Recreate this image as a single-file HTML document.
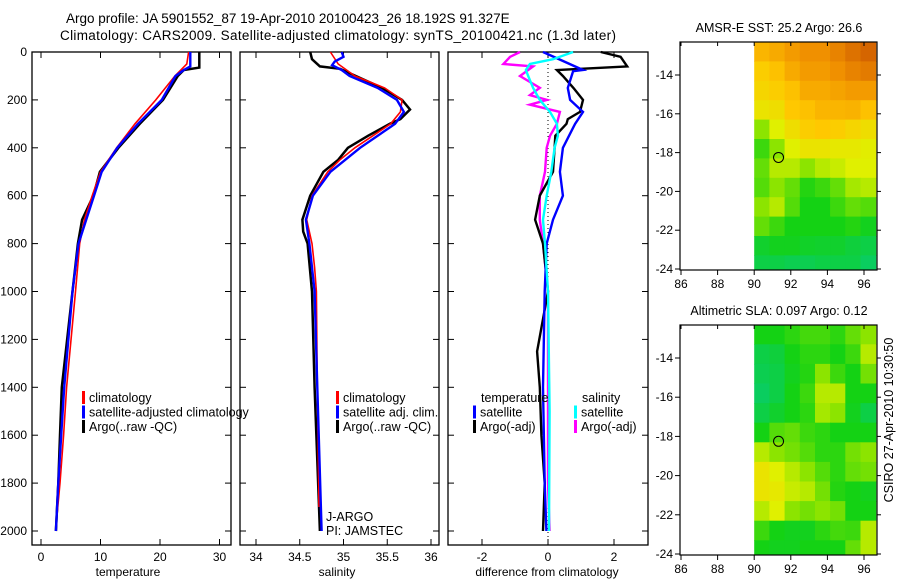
<!DOCTYPE html>
<html><head><meta charset="utf-8"><style>
body{margin:0;background:#fff;}
svg{display:block;font-family:"Liberation Sans",sans-serif;}
</style></head><body>
<svg id="fig" width="900" height="580" xmlns="http://www.w3.org/2000/svg">
<rect width="900" height="580" fill="#fff"/>
<text x="66" y="23" font-size="13.5">Argo profile: JA 5901552_87 19-Apr-2010 20100423_26 18.192S 91.327E</text>
<text x="60" y="40" font-size="13.5" textLength="556">Climatology: CARS2009. Satellite-adjusted climatology: synTS_20100421.nc (1.3d later)</text>
<text transform="translate(893,420) rotate(-90)" text-anchor="middle" font-size="12.5">CSIRO 27-Apr-2010 10:30:50</text>
</svg>
<script>
// ---------- data ----------
const yTicks=[0,200,400,600,800,1000,1200,1400,1600,1800,2000];
const tempTicks=[0,10,20,30];
const salTicks=[34,34.5,35,35.5,36];
const diffTicks=[-2,0,2];
// temperature
const tClimDepth=[0,50,100,200,300,400,500,600,700,800,1000,1400,1600,1800,1930];
const tClim=[24.8,24.5,22.5,19.3,15.8,12.7,10,8.6,7.3,6.5,5.8,4.3,3.8,3.2,2.7];
const tSatDepth=[0,60,75,100,200,300,400,500,600,700,800,1000,1400,1600,1800,2000];
const tSat=[25.1,25.1,24,22.6,20.3,16.3,12.8,10.2,8.9,7.6,6.3,5.3,3.9,3.4,2.9,2.5];
const tArgoDepth=[0,65,75,100,200,300,400,500,600,700,800,1000,1400,1600,1800,2000];
const tArgo=[26.6,26.6,24,23,20.5,16.6,13,9.9,8.8,6.9,6.2,5.3,3.5,3.2,2.9,2.5];
// salinity
const sClimDepth=[0,50,100,150,200,250,300,400,450,500,600,700,800,900,1000,1400,1900];
const sClim=[34.85,34.94,35.13,35.47,35.67,35.65,35.54,35.13,34.96,34.82,34.64,34.58,34.64,34.67,34.69,34.70,34.72];
const sSatDepth=[0,20,40,55,75,100,150,200,250,300,400,500,600,700,800,1000,1400,2000];
const sSat=[34.98,35.0,34.9,34.87,34.98,35.07,35.39,35.61,35.69,35.59,35.19,34.85,34.65,34.57,34.61,34.67,34.70,34.75];
const sArgoDepth=[0,30,60,70,100,150,200,240,280,300,350,400,450,500,600,700,750,800,1000,1400,2000];
const sArgo=[34.62,34.64,34.73,34.96,35.14,35.44,35.67,35.76,35.65,35.53,35.28,35.05,34.94,34.77,34.62,34.53,34.54,34.59,34.64,34.67,34.73];
// differences
const dTSatDepth=[0,75,80,150,200,250,300,400,500,600,700,800,1000,1400,1800,2000];
const dTSat=[-0.15,1.06,0.76,0.6,0.67,1.06,0.82,0.45,0.36,0.45,0.15,-0.04,-0.1,-0.15,-0.1,-0.05];
const dTArgoDepth=[0,20,60,75,100,150,200,250,280,300,350,400,500,600,700,800,1000,1250,1400,1600,1800,2000];
const dTArgo=[1.6,2.2,2.4,0.27,0.45,0.77,1.06,0.97,0.6,0.56,0.22,0.2,0.15,-0.25,-0.39,-0.15,0,-0.33,-0.25,-0.2,-0.1,-0.15];
const dSArgoDepth=[0,20,50,60,100,150,180,200,220,250,300,350,400,500,600,700,800,1000,1400,1800,2000];
const dSArgo=[-0.85,-1.15,-1.35,-0.45,-0.85,-0.25,-0.55,-0.03,-0.55,0.36,0.27,0.06,-0.04,-0.09,-0.25,-0.25,-0.15,0,0,0,0.05];
const dSSatDepth=[0,30,50,75,100,150,200,250,300,350,400,500,600,700,800,1000,1500,2000];
const dSSat=[0.76,0.15,-0.55,-0.67,-0.6,-0.45,-0.25,0.06,0.27,0.3,0.2,0.1,-0.04,-0.15,-0.09,0,0.05,0.03];
// maps
const lonTicks=[86,88,90,92,94,96];
const latTicks=[-14,-16,-18,-20,-22,-24];
const mapLonEdges=[90,90.83,91.66,92.49,93.32,94.15,94.98,95.81,96.64];
const mapLatEdges=[-12.3,-13.3,-14.3,-15.3,-16.3,-17.3,-18.3,-19.3,-20.3,-21.3,-22.3,-23.3,-24];
const sstGrid=[
[0.75,0.78,0.82,0.85,0.85,0.88,0.92,0.95],
[0.68,0.72,0.78,0.82,0.82,0.85,0.88,0.9],
[0.65,0.68,0.72,0.78,0.78,0.8,0.82,0.82],
[0.6,0.62,0.7,0.72,0.75,0.75,0.76,0.72],
[0.45,0.55,0.62,0.68,0.7,0.68,0.65,0.62],
[0.35,0.45,0.55,0.6,0.6,0.58,0.58,0.56],
[0.4,0.5,0.5,0.45,0.5,0.52,0.55,0.55],
[0.38,0.45,0.4,0.32,0.35,0.4,0.48,0.5],
[0.45,0.5,0.38,0.3,0.3,0.35,0.4,0.38],
[0.4,0.35,0.3,0.3,0.3,0.3,0.32,0.28],
[0.25,0.28,0.28,0.26,0.25,0.25,0.22,0.2],
[0.2,0.2,0.18,0.18,0.2,0.2,0.2,0.15]];
const slaGrid=[
[0.3,0.3,0.33,0.36,0.36,0.33,0.4,0.45],
[0.2,0.22,0.3,0.33,0.33,0.3,0.35,0.5],
[0.18,0.2,0.28,0.32,0.45,0.35,0.3,0.42],
[0.15,0.2,0.3,0.35,0.5,0.5,0.3,0.3],
[0.2,0.25,0.3,0.33,0.48,0.45,0.28,0.2],
[0.3,0.38,0.4,0.35,0.33,0.3,0.3,0.3],
[0.5,0.45,0.42,0.38,0.33,0.33,0.42,0.45],
[0.6,0.55,0.5,0.45,0.38,0.33,0.4,0.42],
[0.6,0.58,0.52,0.5,0.42,0.32,0.3,0.28],
[0.5,0.55,0.45,0.42,0.45,0.42,0.3,0.3],
[0.35,0.3,0.28,0.28,0.33,0.36,0.35,0.5],
[0.3,0.28,0.28,0.3,0.3,0.3,0.4,0.5]];
const argoLon=91.33, argoLat=-18.25;

// ---------- drawing ----------
const svg=document.getElementById('fig');
const NS='http://www.w3.org/2000/svg';
function mk(tag,attrs,parent){const e=document.createElementNS(NS,tag);for(const k in attrs)e.setAttribute(k,attrs[k]);(parent||svg).appendChild(e);return e;}
function txt(x,y,s,anchor,size,parent){const t=mk('text',{x:x,y:y,'font-size':size||12,'text-anchor':anchor||'start'},parent);t.textContent=s;return t;}
const top0=52, bot=545;
const yD=d=>top0+d*0.2395;

function profilePanel(name,x0,x1,v0,px0,pxPer,ticks,label,labelX){
  const g=mk('g',{});
  
  
  const fx=v=>px0+(v-v0)*pxPer;
  const frame=mk('rect',{x:x0,y:top0,width:x1-x0,height:bot-top0,fill:'none',stroke:'#000','stroke-width':1.3},g);
  
  
  yTicks.forEach(d=>{mk('line',{x1:x0,x2:x0+6,y1:yD(d),y2:yD(d),stroke:'#000'},g);mk('line',{x1:x1,x2:x1-6,y1:yD(d),y2:yD(d),stroke:'#000'},g);});
  ticks.forEach(v=>{const x=fx(v);mk('line',{x1:x,x2:x,y1:top0,y2:top0+6,stroke:'#000'},g);mk('line',{x1:x,x2:x,y1:bot,y2:bot-6,stroke:'#000'},g);
    const t=txt(x,561,String(v),'middle',12,g);
    
    });
  const lt=txt(labelX,576,label,'middle',12,g);
  
  
  return {g,fx};
}
function series(p,name,depths,vals,color,w){
  const pts=depths.map((d,i)=>p.fx(vals[i]).toFixed(1)+','+yD(d).toFixed(1)).join(' ');
  const l=mk('polyline',{points:pts,fill:'none',stroke:color,'stroke-width':w,'stroke-linejoin':'miter'},p.g);
  
  
}
yTicks.forEach(d=>{const t=txt(27,yD(d)+4,String(d),'end',12);
  
  });

const p1=profilePanel('temperature-panel',32,231,0,41,5.95,tempTicks,'temperature',128);
series(p1,'temperature-argo-line',tArgoDepth,tArgo,'#000',2.5);
series(p1,'temperature-climatology-line',tClimDepth,tClim,'#f00',1.6);
series(p1,'temperature-satellite-line',tSatDepth,tSat,'#00f',2.4);

const p2=profilePanel('salinity-panel',240,439,34,256,87.5,salTicks,'salinity',337);
series(p2,'salinity-argo-line',sArgoDepth,sArgo,'#000',2.5);
series(p2,'salinity-climatology-line',sClimDepth,sClim,'#f00',1.6);
series(p2,'salinity-satellite-line',sSatDepth,sSat,'#00f',2.4);

const p3=profilePanel('difference-panel',448,648,0,548,33,diffTicks,'difference from climatology',547);
mk('line',{x1:548,x2:548,y1:top0,y2:bot,stroke:'#000','stroke-dasharray':'1,3'},p3.g);
series(p3,'salinity-argo-diff-line',dSArgoDepth,dSArgo,'#f0f',2.4);
series(p3,'temperature-argo-diff-line',dTArgoDepth,dTArgo,'#000',2.4);
series(p3,'temperature-satellite-diff-line',dTSatDepth,dTSat,'#00f',2.4);
series(p3,'salinity-satellite-diff-line',dSSatDepth,dSSat,'#0ff',2.4);

function legend(name,x,y,items){
  const g=mk('g',{});
  
  
  items.forEach((it,i)=>{const yy=y+i*14.5;
    if(it[1])mk('rect',{x:x,y:yy-11,width:3,height:13,fill:it[1]},g);
    txt(x+(it[1]?7:8),yy,it[0],'start',12.5,g);});
}
legend('temperature-legend',82,402,[['climatology','#f00'],['satellite-adjusted climatology','#00f'],['Argo(..raw -QC)','#000']]);
legend('salinity-legend',336,402,[['climatology','#f00'],['satellite adj. clim.','#00f'],['Argo(..raw -QC)','#000']]);
legend('diff-temperature-legend',473,402,[['temperature',null],['satellite','#00f'],['Argo(-adj)','#000']]);
legend('diff-salinity-legend',574,402,[['salinity',null],['satellite','#0ff'],['Argo(-adj)','#f0f']]);
const ja=txt(326,521,'J-ARGO','start',12.5);
const pi=txt(326,535,'PI: JAMSTEC','start',12.5);

const cStops=[[0,[0,200,170]],[0.3,[20,210,20]],[0.45,[140,228,0]],[0.55,[224,240,0]],[0.7,[255,200,0]],[0.85,[240,144,0]],[1,[200,80,0]]];
function cmap(v){for(let i=1;i<cStops.length;i++){if(v<=cStops[i][0]){const a=cStops[i-1],b=cStops[i];const t=(v-a[0])/(b[0]-a[0]);
  return 'rgb('+a[1].map((c,k)=>Math.round(c+(b[1][k]-c)*t)).join(',')+')';}}return 'rgb(200,80,0)';}

function mapPanel(name,top,bottom,grid,title){
  const g=mk('g',{});
  
  
  const L=680,R=877;
  const fx=lon=>681+(lon-86)*18.3;
  const k=(bottom-1-(top+33))/10;
  const fyy=lat=>bottom-1-(lat+24)*k;
  grid.forEach((row,r)=>row.forEach((v,c)=>{
    const x=fx(mapLonEdges[c]),x2=fx(mapLonEdges[c+1]);
    const y=fyy(mapLatEdges[r]),y2=fyy(mapLatEdges[r+1]);
    const cell=mk('rect',{x:x.toFixed(1),y:y.toFixed(1),width:(x2-x+0.6).toFixed(1),height:(y2-y+0.6).toFixed(1),fill:cmap(v)},g);
    
    
  }));
  mk('rect',{x:L,y:top,width:R-L,height:bottom-top,fill:'none',stroke:'#000','stroke-width':1.2},g);
  lonTicks.forEach(v=>{const x=fx(v);mk('line',{x1:x,x2:x,y1:top,y2:top+4,stroke:'#000'},g);mk('line',{x1:x,x2:x,y1:bottom,y2:bottom+5,stroke:'#000'},g);
    const t=txt(x,bottom+18,String(v),'middle',12,g);});
  latTicks.forEach(v=>{const y=fyy(v);mk('line',{x1:L,x2:L-5,y1:y,y2:y,stroke:'#000'},g);mk('line',{x1:R,x2:R+4,y1:y,y2:y,stroke:'#000'},g);
    const t=txt(673,y+4,String(v),'end',12,g);});
  const c=mk('circle',{cx:fx(argoLon),cy:fyy(argoLat),r:5,fill:'none',stroke:'#000','stroke-width':1},g);
  
  
  const tt=txt(779,top-10,title,'middle',12.5,g);
  
  
}
mapPanel('sst-map',42,270,sstGrid,'AMSR-E SST: 25.2 Argo: 26.6');
mapPanel('sla-map',325,555,slaGrid,'Altimetric SLA: 0.097 Argo: 0.12');
</script>
</body></html>
